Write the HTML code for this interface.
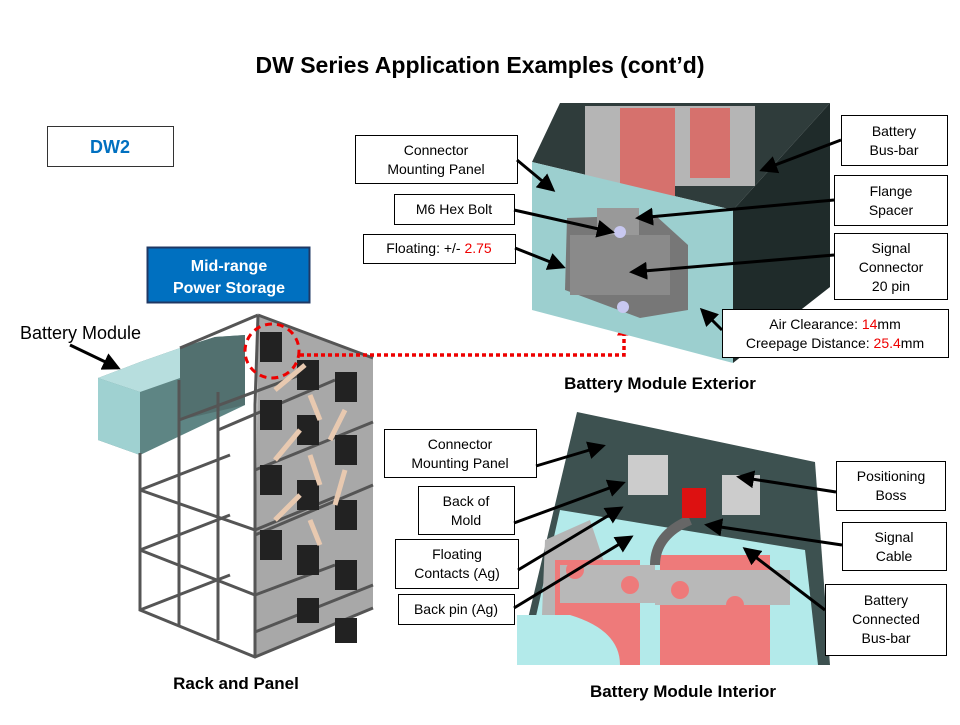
<!DOCTYPE html>
<html><head><meta charset="utf-8"><style>
body{margin:0;background:#fff}
svg text{font-family:"Liberation Sans",Arial,sans-serif}
</style></head><body>
<svg width="960" height="720" viewBox="0 0 960 720" xmlns="http://www.w3.org/2000/svg">
<defs>
<marker id="a" markerWidth="6" markerHeight="6" refX="5" refY="3" orient="auto" markerUnits="strokeWidth"><path d="M0,0 L6,3 L0,6 z" fill="#000"/></marker>
<marker id="r" markerWidth="4" markerHeight="4" refX="3" refY="2" orient="auto" markerUnits="strokeWidth"><path d="M0,0 L4,2 L0,4 z" fill="#e00"/></marker>
</defs>
<rect width="960" height="720" fill="#fff"/>
<text x="480" y="73" font-size="23" font-weight="bold" text-anchor="middle">DW Series Application Examples (cont’d)</text>

<rect x="47.5" y="126.5" width="126" height="40" fill="#fff" stroke="#333"/>
<text x="110" y="153" font-size="18" font-weight="bold" fill="#0070c0" text-anchor="middle">DW2</text>
<rect x="147.5" y="247.5" width="162" height="55" fill="#0070c0" stroke="#1f3864" stroke-width="2"/>
<text x="229" y="271" font-size="16" font-weight="bold" fill="#fff" text-anchor="middle">Mid-range</text>
<text x="229" y="293" font-size="16" font-weight="bold" fill="#fff" text-anchor="middle">Power Storage</text>
<text x="20" y="339" font-size="18">Battery Module</text>
<line x1="70" y1="345" x2="118" y2="368" stroke="#000" stroke-width="3" marker-end="url(#a)"/>

<!-- Rack -->
<polygon points="258,315 373,358 373,608 255,657" fill="#a8a8a8"/>
<polygon points="98,378 140,362 180,348 215,337 245,335 245,405 140,455 98,440" fill="#5e8584"/>
<polygon points="98,378 140,392 140,455 98,440" fill="#9fd1d1"/>
<polygon points="98,378 140,362 180,348 180,378 140,392" fill="#b7dede"/>
<polygon points="180,348 215,337 245,335 245,405 180,420" fill="#52706f"/>
<g stroke="#555" stroke-width="3" fill="none">
<polyline points="140,453 140,610 255,657 373,608"/>
<line x1="179" y1="380" x2="179" y2="625"/>
<line x1="218" y1="392" x2="218" y2="640"/>
<line x1="255" y1="405" x2="255" y2="657"/>
<line x1="258" y1="315" x2="255" y2="405"/>
<line x1="140" y1="490" x2="255" y2="530"/><line x1="140" y1="550" x2="255" y2="595"/>
<line x1="255" y1="530" x2="335" y2="497"/><line x1="255" y1="470" x2="373" y2="422"/>
<line x1="255" y1="595" x2="335" y2="565"/><line x1="255" y1="535" x2="373" y2="485"/>
<line x1="140" y1="490" x2="230" y2="455"/><line x1="140" y1="550" x2="230" y2="515"/>
<line x1="179" y1="420" x2="300" y2="375"/><line x1="218" y1="430" x2="335" y2="380"/>
<line x1="140" y1="610" x2="230" y2="575"/><line x1="255" y1="632" x2="373" y2="585"/>
<line x1="180" y1="348" x2="258" y2="315"/><line x1="258" y1="315" x2="373" y2="358"/>
</g>
<g fill="#222">
<rect x="260" y="332" width="22" height="30"/><rect x="297" y="360" width="22" height="30"/><rect x="335" y="372" width="22" height="30"/>
<rect x="260" y="400" width="22" height="30"/><rect x="297" y="415" width="22" height="30"/><rect x="335" y="435" width="22" height="30"/>
<rect x="260" y="465" width="22" height="30"/><rect x="297" y="480" width="22" height="30"/><rect x="335" y="500" width="22" height="30"/>
<rect x="260" y="530" width="22" height="30"/><rect x="297" y="545" width="22" height="30"/><rect x="335" y="560" width="22" height="30"/>
<rect x="297" y="598" width="22" height="25"/><rect x="335" y="618" width="22" height="25"/>
</g>
<g stroke="#e8c9b0" stroke-width="5"><line x1="275" y1="390" x2="305" y2="365"/><line x1="310" y1="395" x2="320" y2="420"/><line x1="345" y1="410" x2="330" y2="440"/><line x1="275" y1="460" x2="300" y2="430"/><line x1="310" y1="455" x2="320" y2="485"/><line x1="345" y1="470" x2="335" y2="505"/><line x1="275" y1="520" x2="300" y2="495"/><line x1="310" y1="520" x2="320" y2="545"/></g>
<circle cx="272" cy="351" r="27" fill="none" stroke="#e00" stroke-width="3" stroke-dasharray="7,5"/>
<polyline points="300,355 624,355 624,325" fill="none" stroke="#e00" stroke-width="3.5" stroke-dasharray="4,3" marker-end="url(#r)"/>
<text x="236" y="689" font-size="17" font-weight="bold" text-anchor="middle">Rack and Panel</text>

<!-- Exterior module -->
<polygon points="532,162 560,103 830,103 733,210" fill="#2f3c3b"/>
<rect x="585" y="106" width="170" height="80" fill="#b5b5b5"/>
<rect x="620" y="108" width="55" height="90" fill="#d6716d"/>
<rect x="690" y="108" width="40" height="70" fill="#d6716d"/>
<polygon points="733,210 830,103 830,287 733,363" fill="#1f2b2a"/>
<polygon points="532,162 733,210 733,363 532,310" fill="#9ccfcf"/>
<polygon points="567,218 655,215 688,245 688,310 640,318 565,290" fill="#777"/>
<rect x="597" y="208" width="42" height="30" fill="#999"/>
<rect x="570" y="235" width="100" height="60" fill="#8a8a8a"/>
<circle cx="620" cy="232" r="6" fill="#c8c8f0"/><circle cx="623" cy="307" r="6" fill="#c8c8f0"/>
<text x="660" y="389" font-size="17" font-weight="bold" text-anchor="middle">Battery Module Exterior</text>

<!-- Interior module -->
<polygon points="577,412 815,462 830,665 517,665" fill="#3d5150"/>
<polygon points="560,510 805,550 818,665 525,665" fill="#b3eaea"/>
<polygon points="545,540 590,520 610,580 590,665 540,665" fill="#b5b5b5"/>
<rect x="555" y="560" width="85" height="105" fill="#ee7a7a"/>
<rect x="660" y="555" width="110" height="110" fill="#ee7a7a"/>
<rect x="655" y="570" width="135" height="35" fill="#b8b8b8"/>
<rect x="560" y="565" width="95" height="38" fill="#b8b8b8"/>
<circle cx="575" cy="570" r="9" fill="#ee7a7a"/><circle cx="630" cy="585" r="9" fill="#ee7a7a"/><circle cx="680" cy="590" r="9" fill="#ee7a7a"/><circle cx="735" cy="605" r="9" fill="#ee7a7a"/>
<path d="M517,615 L570,615 Q620,630 620,665 L517,665 z" fill="#b3eaea"/>
<path d="M690,520 Q655,535 655,565" stroke="#666" stroke-width="10" fill="none"/>
<rect x="628" y="455" width="40" height="40" fill="#ccc"/><rect x="722" y="475" width="38" height="40" fill="#ccc"/>
<rect x="682" y="488" width="24" height="30" fill="#d11"/>
<text x="683" y="697" font-size="17" font-weight="bold" text-anchor="middle">Battery Module Interior</text>

<!-- Labels -->
<g fill="#fff" stroke="#000" stroke-width="1">
<rect x="355.5" y="135.5" width="162" height="48"/><rect x="394.5" y="194.5" width="120" height="30"/><rect x="363.5" y="234.5" width="152" height="29"/>
<rect x="841.5" y="115.5" width="106" height="50"/><rect x="834.5" y="175.5" width="113" height="50"/><rect x="834.5" y="233.5" width="113" height="66"/>
<rect x="722.5" y="309.5" width="226" height="48"/>
<rect x="384.5" y="429.5" width="152" height="48"/><rect x="418.5" y="486.5" width="96" height="48"/><rect x="395.5" y="539.5" width="123" height="49"/><rect x="398.5" y="594.5" width="116" height="30"/>
<rect x="836.5" y="461.5" width="109" height="49"/><rect x="842.5" y="522.5" width="104" height="48"/><rect x="825.5" y="584.5" width="121" height="71"/>
</g>
<g font-size="14" text-anchor="middle">
<text x="436" y="155">Connector</text><text x="436" y="174">Mounting Panel</text>
<text x="454" y="214">M6 Hex Bolt</text>
<text x="439" y="253">Floating: +/- <tspan fill="#e00">2.75</tspan></text>
<text x="894" y="136">Battery</text><text x="894" y="155">Bus-bar</text>
<text x="891" y="196">Flange</text><text x="891" y="215">Spacer</text>
<text x="891" y="253">Signal</text><text x="891" y="272">Connector</text><text x="891" y="291">20 pin</text>
<text x="835" y="329">Air Clearance: <tspan fill="#e00">14</tspan>mm</text>
<text x="835" y="348">Creepage Distance: <tspan fill="#e00">25.4</tspan>mm</text>
<text x="460" y="449">Connector</text><text x="460" y="468">Mounting Panel</text>
<text x="466" y="506">Back of</text><text x="466" y="525">Mold</text>
<text x="457" y="559">Floating</text><text x="457" y="578">Contacts (Ag)</text>
<text x="456" y="614">Back pin (Ag)</text>
<text x="891" y="481">Positioning</text><text x="891" y="500">Boss</text>
<text x="894" y="542">Signal</text><text x="894" y="561">Cable</text>
<text x="886" y="605">Battery</text><text x="886" y="624">Connected</text><text x="886" y="643">Bus-bar</text>
</g>
<g stroke="#000" stroke-width="3" marker-end="url(#a)">
<line x1="517" y1="160" x2="553" y2="190"/><line x1="514" y1="210" x2="612" y2="232"/><line x1="515" y1="248" x2="563" y2="267"/>
<line x1="841" y1="140" x2="762" y2="170"/><line x1="834" y1="200" x2="638" y2="218"/><line x1="834" y1="255" x2="632" y2="272"/>
<line x1="722" y1="330" x2="702" y2="310"/>
<line x1="536" y1="466" x2="603" y2="446"/><line x1="514" y1="523" x2="623" y2="483"/><line x1="518" y1="570" x2="621" y2="508"/><line x1="514" y1="608" x2="631" y2="537"/>
<line x1="836" y1="492" x2="739" y2="477"/><line x1="842" y1="545" x2="707" y2="525"/><line x1="825" y1="610" x2="745" y2="549"/>
</g>
</svg>
</body></html>
